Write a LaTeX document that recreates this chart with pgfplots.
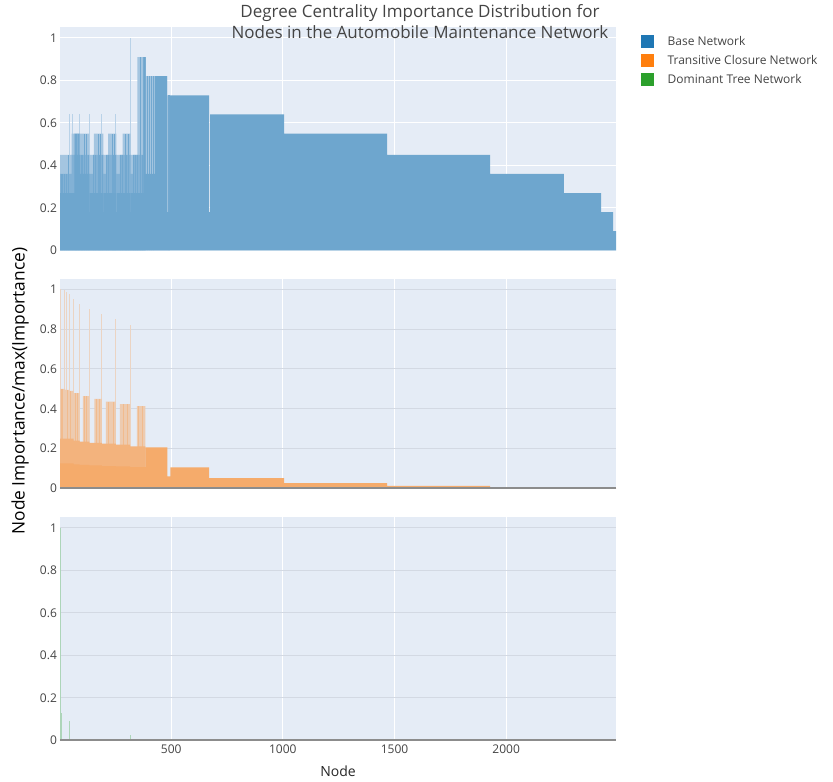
\documentclass[border=0pt]{standalone}
\usepackage{pgfplots}
\pgfplotsset{compat=1.18}
\usepackage{fontspec}
\setmainfont{Open Sans}
\definecolor{bgc}{HTML}{E5ECF6}
\definecolor{pblue}{HTML}{1F77B4}
\definecolor{porange}{HTML}{FF7F0E}
\definecolor{pgreen}{HTML}{2CA02C}
\definecolor{txt}{HTML}{444444}
\definecolor{ygrid}{HTML}{D3D9E3}
\definecolor{zeroc}{HTML}{8C8C8C}
\colorlet{bdark}{pblue!60!bgc}
\colorlet{bmed}{pblue!50!bgc}
\colorlet{blight}{pblue!33!bgc}
\colorlet{bspike}{pblue!22!bgc}
\colorlet{bstreak}{pblue!58!bgc}
\colorlet{odark}{porange!60!bgc}
\colorlet{omed}{porange!52!bgc}
\colorlet{olight}{porange!30!bgc}
\colorlet{ospike}{porange!22!bgc}
\colorlet{ostreak}{porange!45!bgc}
\colorlet{gspike}{pgreen!30!bgc}

% ---------- data: Base Network ----------
\pgfplotstableread{
x y
46 0.64
57 0.64
90 0.64
133 0.64
188 0.64
251 0.64
318 1.0
}\baseSpikes
\pgfplotstableread{
x y
8 0.36
14 0.36
22 0.36
30 0.36
38 0.45
70 0.55
76 0.55
84 0.55
96 0.45
104 0.45
110 0.55
112 0.45
122 0.55
128 0.45
150 0.45
160 0.45
172 0.55
180 0.45
184 0.55
190 0.45
210 0.45
220 0.45
236 0.55
240 0.45
246 0.55
250 0.45
270 0.45
280 0.45
296 0.55
300 0.45
306 0.55
310 0.45
330 0.45
340 0.45
350 0.45
362 0.91
370 0.45
392 0.82
400 0.82
412 0.82
420 0.82
486 0.73
490 0.73
}\baseStreaks
\pgfplotstableread{
x y
3 0.45
54 0.55
133 0.45
154 0.55
196 0.45
218 0.55
255 0.45
282 0.55
318 0.45
348 0.91
385 0.82
482 0.73
494 0
2492 0
}\baseLight
\pgfplotstableread{
x y
3 0.36
54 0.45
66 0.55
91 0.45
133 0.36
150 0.45
196 0.36
210 0.45
255 0.36
270 0.45
318 0.36
330 0.45
375 0.91
385 0
2492 0
}\baseMed
\pgfplotstableread{
x y
3 0.27
66 0.45
91 0.36
133 0.18
136 0.27
196 0.18
199 0.27
255 0.18
258 0.27
318 0.18
321 0.27
375 0.91
385 0.36
427 0.82
482 0.18
494 0.73
670 0.18
674 0.64
1006 0.55
1467 0.45
1928 0.36
2259 0.27
2425 0.18
2479 0.09
2492 0.09
}\baseDark

% ---------- data: Transitive Closure Network ----------
\pgfplotstableread{
x y
3 1.0
20 0.995
31 0.987
45 0.978
63 0.95
90 0.925
133 0.9
190 0.876
252 0.849
316 0.822
}\tcSpikes
\pgfplotstableread{
x y
8 0.5
14 0.5
36 0.495
50 0.49
70 0.478
80 0.478
110 0.463
122 0.463
165 0.45
180 0.45
220 0.436
240 0.436
285 0.423
305 0.423
355 0.413
372 0.413
}\tcStreaks
\pgfplotstableread{
x y
3 0.5
25 0.495
43 0.49
63 0.478
90 0
104 0.463
133 0
156 0.45
190 0
208 0.436
252 0
270 0.423
316 0
346 0.413
384 0
2492 0
}\tcLight
\pgfplotstableread{
x y
3 0.25
63 0.24
90 0.235
133 0.228
190 0.225
252 0.22
316 0.211
384 0
2492 0
}\tcMed
\pgfplotstableread{
x y
3 0.125
63 0.12
90 0.118
133 0.115
190 0.112
252 0.11
316 0.107
384 0.206
483 0.06
496 0.105
670 0.052
1006 0.026
1467 0.013
1928 0.0065
2259 0.0033
2425 0.0016
2479 0.0008
2492 0.0008
}\tcDark

% ---------- data: Dominant Tree Network ----------
\pgfplotstableread{
x y
3 1.0
4 0.75
8 0.127
44 0.09
317 0.027
}\dtSpikes

\pgfplotsset{panel/.style={
  scale only axis, width=417pt, anchor=south west,
  xmin=2, xmax=2492, ymin=0, ymax=1.05,
  axis background/.style={fill=bgc},
  axis line style={draw=none},
  major tick length=0pt,
  xtick={500,1000,1500,2000},
  ytick={0,0.2,0.4,0.6,0.8,1}, yticklabels={0,0.2,0.4,0.6,0.8,1},
  grid=major,
  major grid style={white, line width=0.75pt},
  tick label style={font=\fontsize{9}{10}\selectfont, text=txt},
  /pgf/number format/assume math mode=true,
  yticklabel style={xshift=1.2pt},
}}

\begin{document}
\begin{tikzpicture}
\path (0,0) rectangle (624.75pt,583.5pt);

% ---- panel 1 ----
\begin{axis}[panel, at={(45pt,397.5pt)}, height=167.25pt, xticklabels={}]
\addplot[ycomb, bspike, line width=0.75pt, mark=none] table {\baseSpikes};
\addplot[const plot mark left, fill=blight, draw=none] table {\baseLight} \closedcycle;
\addplot[const plot mark left, fill=bmed, draw=none] table {\baseMed} \closedcycle;
\addplot[ycomb, bstreak, line width=0.5pt, mark=none] table {\baseStreaks};
\addplot[const plot mark left, fill=bdark, draw=none] table {\baseDark} \closedcycle;
\end{axis}

% ---- panel 2 ----
\begin{axis}[panel, at={(45pt,219pt)}, height=156.75pt, xticklabels={},
  y grid style={ygrid, line width=0.75pt}]
\addplot[ycomb, ospike, line width=0.75pt, mark=none] table {\tcSpikes};
\addplot[const plot mark left, fill=olight, draw=none] table {\tcLight} \closedcycle;
\addplot[ycomb, ostreak, line width=0.5pt, mark=none] table {\tcStreaks};
\addplot[const plot mark left, fill=omed, draw=none] table {\tcMed} \closedcycle;
\addplot[const plot mark left, fill=odark, draw=none] table {\tcDark} \closedcycle;
\draw[zeroc, line width=1.4pt] (rel axis cs:0,0) -- (rel axis cs:1,0);
\end{axis}

% ---- panel 3 ----
\begin{axis}[panel, at={(45pt,30pt)}, height=167.25pt,
  xticklabels={500,1000,1500,2000},
  y grid style={ygrid, line width=0.75pt}]
\addplot[ycomb, gspike, line width=0.75pt, mark=none] table {\dtSpikes};
\draw[zeroc, line width=1.4pt] (rel axis cs:0,0) -- (rel axis cs:1,0);
\end{axis}

% ---- titles and labels ----
\node[align=center, text=txt, font=\fontsize{12.75}{16}\selectfont] at (315pt,569pt)
  {Degree Centrality Importance Distribution for\\Nodes in the Automobile Maintenance Network};
\node[rotate=90, text=black, font=\fontsize{13}{15}\selectfont] at (15pt,292pt)
  {Node Importance/max(Importance)};
\node[text=black!85, font=\fontsize{10.5}{12}\selectfont] at (253.5pt,6.75pt) {Node};

% ---- legend ----
\fill[pblue] (480.75pt,549.5pt) rectangle ++(9.45pt,9.45pt);
\fill[porange] (480.75pt,535.25pt) rectangle ++(9.45pt,9.45pt);
\fill[pgreen] (480.75pt,521pt) rectangle ++(9.45pt,9.45pt);
\node[anchor=west, inner sep=0pt, text=txt, font=\fontsize{9}{10}\selectfont] at (500.5pt,554.25pt) {Base Network};
\node[anchor=west, inner sep=0pt, text=txt, font=\fontsize{9}{10}\selectfont] at (500.5pt,540pt) {Transitive Closure Network};
\node[anchor=west, inner sep=0pt, text=txt, font=\fontsize{9}{10}\selectfont] at (500.5pt,525.75pt) {Dominant Tree Network};
\end{tikzpicture}
\end{document}
